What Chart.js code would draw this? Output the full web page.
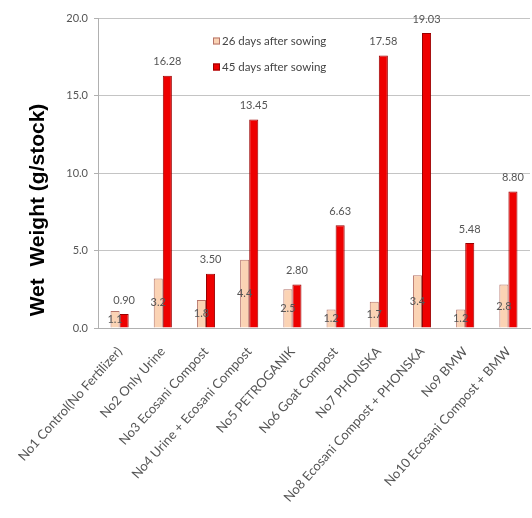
<!DOCTYPE html>
<html>
<head>
<meta charset="utf-8">
<script src="https://cdn.jsdelivr.net/npm/chart.js@4.4.1/dist/chart.umd.min.js"></script>
<style>
  html, body { margin: 0; padding: 0; background: #fff; overflow: hidden; }
  #wrap { width: 536px; height: 518px; position: relative; }
</style>
</head>
<body>
<div id="wrap"><canvas id="c" width="536" height="518"></canvas></div>
<script>
// Treatments
const categories = [
  'No1 Control(No Fertilizer)',
  'No2 Only Urine',
  'No3 Ecosani Compost',
  'No4 Urine + Ecosani Compost',
  'No5 PETROGANIK',
  'No6 Goat Compost',
  'No7 PHONSKA',
  'No8 Ecosani Compost + PHONSKA',
  'No9 BMW',
  'No10 Ecosani Compost + BMW'
];
// Wet weight (g/stock)
const day26 = [1.1, 3.2, 1.8, 4.4, 2.5, 1.2, 1.7, 3.4, 1.2, 2.8];
const day45 = [0.90, 16.28, 3.50, 13.45, 2.80, 6.63, 17.58, 19.03, 5.48, 8.80];
const seriesNames = ['26 days after sowing', '45 days after sowing'];
const yTicks = [0, 5, 10, 15, 20];
const yTitle = 'Wet  Weight (g/stock)';

const FONT = 'Lato, "Open Sans", sans-serif';

const valueLabels = {
  id: 'valueLabels',
  afterDatasetsDraw(chart) {
    const ctx = chart.ctx;
    ctx.save();
    ctx.font = '11px ' + FONT;
    ctx.fillStyle = '#555';
    ctx.textAlign = 'center';
    ctx.textBaseline = 'middle';
    chart.data.datasets.forEach((ds, di) => {
      const meta = chart.getDatasetMeta(di);
      meta.data.forEach((bar, i) => {
        const v = ds.data[i];
        if (di === 0) {
          ctx.fillText(v.toFixed(1), bar.x, (bar.y + bar.base) / 2);
        } else {
          ctx.fillText(v.toFixed(2), bar.x, bar.y - 14);
        }
      });
    });
    ctx.restore();
  }
};

const innerLegend = {
  id: 'innerLegend',
  afterDraw(chart) {
    const ctx = chart.ctx;
    const a = chart.chartArea;
    const x = a.left + 115;
    const rows = [a.top + 23, a.top + 49];
    ctx.save();
    ctx.font = '11.5px ' + FONT;
    ctx.textBaseline = 'middle';
    ctx.textAlign = 'left';
    chart.data.datasets.forEach((ds, i) => {
      const y = rows[i];
      ctx.fillStyle = ds.backgroundColor;
      ctx.fillRect(x, y - 3.5, 7, 7);
      ctx.strokeStyle = ds.borderColor;
      ctx.lineWidth = 1;
      ctx.strokeRect(x + 0.5, y - 3, 6, 6);
      ctx.fillStyle = '#444';
      ctx.fillText(ds.label, x + 9, y);
    });
    ctx.restore();
  }
};

const sideTitle = {
  id: 'sideTitle',
  afterDraw(chart) {
    const ctx = chart.ctx;
    ctx.save();
    ctx.translate(38, 210);
    ctx.rotate(-Math.PI / 2);
    ctx.font = 'bold 21px "Liberation Sans", Arial, sans-serif';
    ctx.fillStyle = '#000';
    ctx.textAlign = 'center';
    ctx.textBaseline = 'middle';
    ctx.fillText(yTitle, 0, 0);
    ctx.restore();
  }
};

new Chart(document.getElementById('c'), {
  type: 'bar',
  data: {
    labels: categories,
    datasets: [
      {
        label: seriesNames[0],
        data: day26,
        backgroundColor: '#FBD3B4',
        borderColor: '#B5746A',
        borderWidth: 1
      },
      {
        label: seriesNames[1],
        data: day45,
        backgroundColor: '#EE0000',
        borderColor: '#9A0000',
        borderWidth: 1
      }
    ]
  },
  options: {
    responsive: false,
    animation: false,
    layout: { padding: { top: 18, right: 0, left: 0, bottom: 0 } },
    datasets: {
      bar: { categoryPercentage: 0.42, barPercentage: 1.0 }
    },
    plugins: {
      legend: { display: false },
      tooltip: { enabled: false }
    },
    scales: {
      x: {
        grid: { display: false, drawTicks: false },
        border: { display: true, color: '#B0B0B0' },
        ticks: {
          color: '#555',
          font: { family: FONT, size: 13 },
          minRotation: 48,
          maxRotation: 48,
          autoSkip: false,
          padding: 16
        },
        afterFit(scale) { scale.height = 190; }
      },
      y: {
        min: 0,
        max: 20,
        afterBuildTicks(scale) { scale.ticks = yTicks.map(v => ({ value: v })); },
        grid: { color: '#C4C4C4', drawTicks: true, tickLength: 4, tickColor: '#B0B0B0' },
        border: { display: true, color: '#B0B0B0' },
        ticks: {
          color: '#555',
          font: { family: FONT, size: 11 },
          padding: 6,
          callback: v => Number(v).toFixed(1)
        },
        afterFit(scale) { scale.width = 98; }
      }
    }
  },
  plugins: [valueLabels, innerLegend, sideTitle]
});
</script>
</body>
</html>
